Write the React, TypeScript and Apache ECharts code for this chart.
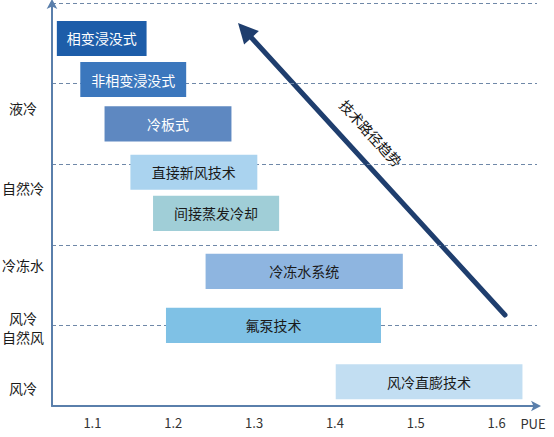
import React, { useEffect, useRef } from "react";
import * as echarts from "echarts";

// Technologies (bars), PUE ranges and vertical position (row value)
const techNames = ["相变浸没式", "非相变浸没式", "冷板式", "直接新风技术", "间接蒸发冷却", "冷冻水系统", "氟泵技术", "风冷直膨技术"];
const pueStart = [1.056, 1.085, 1.115, 1.147, 1.175, 1.24, 1.191, 1.401];
const pueEnd = [1.167, 1.216, 1.272, 1.304, 1.331, 1.484, 1.457, 1.632];
const rowValue = [4.56, 4.05, 3.5, 2.9, 2.39, 1.67, 1.0, 0.3];

// Cooling categories on the left
const categoryNames = ["液冷", "自然冷", "冷冻水", "风冷\n自然风", "风冷"];
const categoryValue = [3.7, 2.71, 1.745, 0.98, 0.22];

// PUE tick labels
const pueTicks = [1.1, 1.2, 1.3, 1.4, 1.5, 1.6];

const barColors = ["#1D5DA9", "#3B77BD", "#5E88C1", "#AAD3EF", "#A0CED7", "#8EB5E0", "#7FC1E5", "#C2DEF2"];
const barTextColors = ["#FFFFFF", "#FFFFFF", "#FFFFFF", "#1A1A1A", "#1A1A1A", "#1A1A1A", "#1A1A1A", "#1A1A1A"];

const FONT = '"Noto Sans CJK SC", "Noto Sans", sans-serif';

export default function App() {
  const ref = useRef<HTMLDivElement>(null);
  useEffect(() => {
    document.body.style.margin = "0";
    const chart = echarts.init(ref.current!, null, { renderer: "svg" });

    const barData = techNames.map((n, i) => [pueStart[i], pueEnd[i], rowValue[i], i]);
    const catData = categoryNames.map((n, i) => [categoryValue[i], i]);

    // Arrow geometry (annotation)
    const tip = [238, 23];
    const tail = [505, 315];
    const dx = tip[0] - tail[0];
    const dy = tip[1] - tail[1];
    const len = Math.sqrt(dx * dx + dy * dy);
    const ux = dx / len, uy = dy / len;
    const headLen = 20, headHalf = 10;
    const base = [tip[0] - ux * headLen, tip[1] - uy * headLen];
    const px = -uy, py = ux;
    const angle = Math.atan2(-dy, -dx);

    chart.setOption({
      animation: false,
      grid: { left: 52, right: 17, top: 3, bottom: 31 },
      xAxis: {
        type: "value",
        min: 1.05,
        max: 1.65,
        axisLine: {
          show: true,
          lineStyle: { color: "#5A7FAB", width: 2 },
          symbol: ["none", "arrow"],
          symbolSize: [8, 10],
          symbolOffset: [0, 4],
        },
        axisTick: { show: false },
        splitLine: { show: false },
        axisLabel: {
          customValues: pueTicks,
          color: "#333",
          fontSize: 13,
          fontFamily: FONT,
          margin: 10,
          formatter: (v: number) => v.toFixed(1),
        },
      },
      yAxis: {
        type: "value",
        min: 0,
        max: 5,
        interval: 1,
        axisLine: {
          show: true,
          lineStyle: { color: "#5A7FAB", width: 2 },
          symbol: ["none", "arrow"],
          symbolSize: [8, 10],
          symbolOffset: [0, 4],
        },
        axisTick: { show: false },
        axisLabel: { show: false },
        splitLine: {
          show: true,
          lineStyle: { color: "#6F88A8", type: [4, 3], width: 1.2 },
        },
      },
      series: [
        {
          type: "custom",
          clip: false,
          data: barData,
          encode: { x: [0, 1], y: 2 },
          renderItem: (params: any, api: any) => {
            const x0 = api.value(0), x1 = api.value(1), y = api.value(2), idx = api.value(3);
            const p0 = api.coord([x0, y]);
            const p1 = api.coord([x1, y]);
            const h = api.size([0, 0.435])[1];
            return {
              type: "group",
              children: [
                {
                  type: "rect",
                  shape: { x: p0[0], y: p0[1] - h / 2, width: p1[0] - p0[0], height: h },
                  style: { fill: barColors[idx] },
                },
                {
                  type: "text",
                  x: (p0[0] + p1[0]) / 2,
                  y: p0[1],
                  style: {
                    text: techNames[idx],
                    fill: barTextColors[idx],
                    font: `14px ${FONT}`,
                    align: "center",
                    verticalAlign: "middle",
                  },
                },
              ],
            };
          },
        },
        {
          type: "custom",
          clip: false,
          data: catData,
          encode: { y: 0 },
          renderItem: (params: any, api: any) => {
            const y = api.value(0), idx = api.value(1);
            const p = api.coord([1.05, y]);
            return {
              type: "text",
              x: p[0] - 29,
              y: p[1],
              style: {
                text: categoryNames[idx],
                fill: "#1A1A1A",
                font: `14px ${FONT}`,
                align: "center",
                verticalAlign: "middle",
                lineHeight: 19,
              },
            };
          },
        },
      ],
      graphic: [
        {
          type: "line",
          shape: { x1: tail[0], y1: tail[1], x2: base[0], y2: base[1] },
          style: { stroke: "#1F3E6E", lineWidth: 5, lineCap: "round" },
        },
        {
          type: "polygon",
          shape: {
            points: [
              tip,
              [base[0] + px * headHalf, base[1] + py * headHalf],
              [base[0] - px * headHalf, base[1] - py * headHalf],
            ],
          },
          style: { fill: "#1F3E6E" },
        },
        {
          type: "text",
          x: 371,
          y: 133,
          rotation: -angle,
          style: {
            text: "技术路径趋势",
            fill: "#111",
            font: `14px ${FONT}`,
            align: "center",
            verticalAlign: "middle",
          },
        },
        {
          type: "text",
          x: 533,
          y: 423,
          style: {
            text: "PUE",
            fill: "#333",
            font: `13px ${FONT}`,
            align: "center",
            verticalAlign: "middle",
          },
        },
      ],
    });
    return () => chart.dispose();
  }, []);
  return <div ref={ref} style={{ width: 554, height: 437 }} />;
}
